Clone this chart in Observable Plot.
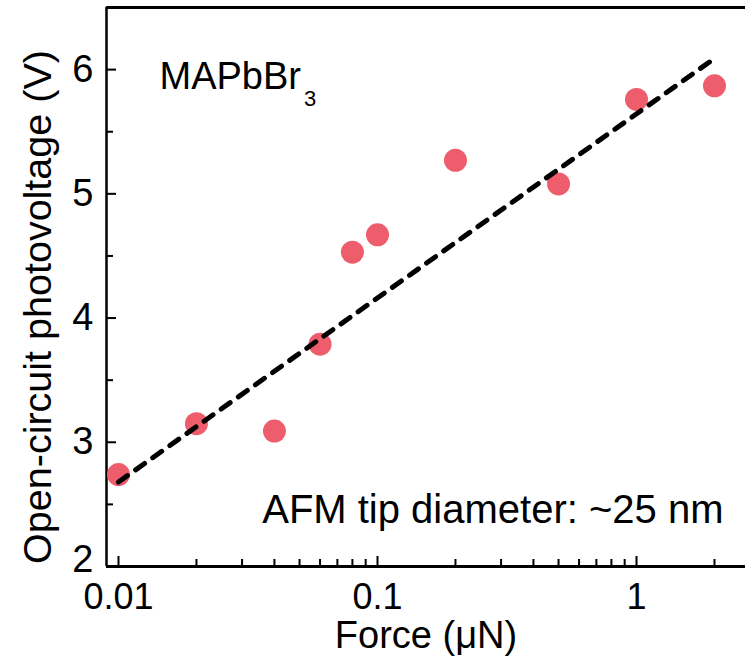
<!DOCTYPE html>
<html>
<head>
<meta charset="utf-8">
<script src="https://cdn.jsdelivr.net/npm/d3@7"></script>
<script src="https://cdn.jsdelivr.net/npm/@observablehq/plot@0.6"></script>
<style>
  html, body { margin: 0; padding: 0; background: #fff; }
  svg { display: block; }
</style>
</head>
<body>
<div id="chart"></div>
<script>
// Data
const force = [0.01, 0.02, 0.04, 0.06, 0.08, 0.1, 0.2, 0.5, 1, 2];
const voltage = [2.74, 3.15, 3.09, 3.79, 4.53, 4.67, 5.27, 5.08, 5.76, 5.87];
const fitForce = [0.01, 2];
const fitVoltage = [2.68, 6.09];
const xMajorTicks = [0.01, 0.1, 1];
const xMinorTicks = [0.02, 0.03, 0.04, 0.05, 0.06, 0.07, 0.08, 0.09, 0.2, 0.3, 0.4, 0.5, 0.6, 0.7, 0.8, 0.9, 2];
const yMajorTicks = [2, 3, 4, 5, 6];
const yMinorTicks = [2.5, 3.5, 4.5, 5.5];
const xLabel = "Force (\u03BCN)";
const yLabel = "Open-circuit photovoltage (V)";
const material = "MAPbBr";
const materialSub = "3";
const note = "AFM tip diameter: ~25 nm";

const points = force.map((f, i) => ({f, v: voltage[i]}));
const fit = fitForce.map((f, i) => ({f, v: fitVoltage[i]}));

const W = 745, H = 666;
const mL = 106, mR = 0, mT = 7, mB = 100;
const innerW = W - mL - mR, innerH = H - mT - mB;
const font = "Liberation Sans, Arial, sans-serif";

const yLow = yMajorTicks.filter(d => d === 2);
const yHigh = yMajorTicks.filter(d => d !== 2);

const chart = Plot.plot({
  width: W, height: H,
  marginLeft: mL, marginRight: mR, marginTop: mT, marginBottom: mB,
  style: {fontFamily: font, background: "#fff", color: "#000"},
  x: {type: "log", domain: [0.008989, 2.635]},
  y: {domain: [2, 6.5]},
  marks: [
    Plot.axisX(xMajorTicks, {tickSize: 0, tickPadding: 17, fontSize: 36, tickFormat: d => String(d), label: null}),
    Plot.axisY(yHigh, {tickSize: 0, tickPadding: 13, fontSize: 38, tickFormat: d => String(d), label: null}),
    Plot.axisY(yLow, {tickSize: 0, tickPadding: 13, fontSize: 38, dy: -7, tickFormat: d => String(d), label: null}),
    Plot.tickX(xMajorTicks, {x: d => d, insetTop: innerH - 10, strokeWidth: 2}),
    Plot.tickX(xMinorTicks, {x: d => d, insetTop: innerH - 7, strokeWidth: 2}),
    Plot.tickY(yMajorTicks, {y: d => d, insetRight: innerW - 10, strokeWidth: 2}),
    Plot.tickY(yMinorTicks, {y: d => d, insetRight: innerW - 7, strokeWidth: 2}),
    Plot.ruleY([2], {strokeWidth: 3}),
    Plot.ruleY([6.5], {strokeWidth: 3}),
    Plot.ruleX([0.008989], {strokeWidth: 2.5}),
    Plot.dot(points, {x: "f", y: "v", r: 11.5, fill: "#ee5d6c", stroke: "none"}),
    Plot.line(fit, {x: "f", y: "v", stroke: "#000", strokeWidth: 5, strokeDasharray: "11,10", strokeLinecap: "round"}),
    Plot.text([xLabel], {frameAnchor: "bottom", dy: 69, fontSize: 38, lineAnchor: "middle", textAnchor: "middle"}),
    Plot.text([yLabel], {frameAnchor: "left", rotate: -90, dx: -68, dy: 20, fontSize: 39.5, lineAnchor: "middle", textAnchor: "middle"}),
    Plot.text([material], {frameAnchor: "top-left", dx: 53, dy: 69, fontSize: 38, lineAnchor: "middle", textAnchor: "start"}),
    Plot.text([note], {frameAnchor: "bottom-right", dx: -22, dy: -56, fontSize: 40, lineAnchor: "middle", textAnchor: "end"})
  ]
});

// add subscript to material label
d3.select(chart).selectAll("text").filter(function() { return this.textContent === material; })
  .append("tspan").attr("dx", 3).attr("dy", 17).attr("font-size", 22).text(materialSub);

document.getElementById("chart").appendChild(chart);
</script>
</body>
</html>
